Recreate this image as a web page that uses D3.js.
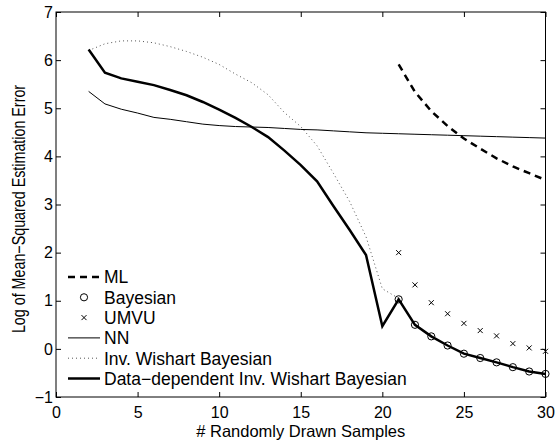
<!DOCTYPE html>
<html>
<head>
<meta charset="utf-8">
<script src="https://cdn.jsdelivr.net/npm/d3@7"></script>
<style>
  html, body { margin: 0; padding: 0; background: #fff; }
  svg text { font-family: "Liberation Sans", Arial, Helvetica, sans-serif; fill: #000; }
</style>
</head>
<body>
<svg id="chart" width="558" height="444"></svg>
<script>
// Sample counts
const samplesAll = d3.range(2, 31);          // 2..30
const samplesLate = d3.range(21, 31);        // 21..30

// Log of mean-squared estimation error per estimator
const mlValues = [5.91, 5.34, 4.94, 4.63, 4.37, 4.16, 3.96, 3.79, 3.65, 3.51];
const bayesianValues = [1.03, 0.50, 0.26, 0.07, -0.10, -0.19, -0.28, -0.38, -0.47, -0.52];
const umvuValues = [2.00, 1.33, 0.96, 0.73, 0.53, 0.38, 0.27, 0.11, 0.02, -0.05];
const nnValues = [5.35, 5.09, 4.98, 4.90, 4.81, 4.77, 4.72, 4.67, 4.64, 4.62,
                  4.61, 4.60, 4.58, 4.56, 4.55, 4.53, 4.51, 4.49, 4.48, 4.47,
                  4.46, 4.45, 4.44, 4.43, 4.42, 4.41, 4.40, 4.39, 4.38];
const invWishartSamples = d3.range(2, 22);   // 2..21
const invWishartValues = [6.20, 6.34, 6.40, 6.40, 6.36, 6.28, 6.18, 6.06, 5.91, 5.71,
                          5.53, 5.28, 4.91, 4.62, 4.22, 3.65, 3.06, 2.33, 1.25, 1.05];
const dataDepValues = [6.22, 5.74, 5.62, 5.55, 5.48, 5.38, 5.27, 5.13, 4.97, 4.80,
                       4.61, 4.40, 4.12, 3.82, 3.48, 2.97, 2.47, 1.95, 0.47, 1.03,
                       0.50, 0.26, 0.07, -0.10, -0.19, -0.28, -0.38, -0.47, -0.52];

const xTicks = [0, 5, 10, 15, 20, 25, 30];
const yTicks = [-1, 0, 1, 2, 3, 4, 5, 6, 7];

const legendLabels = ["ML", "Bayesian", "UMVU", "NN", "Inv. Wishart Bayesian",
                      "Data\u2212dependent Inv. Wishart Bayesian"];

// Layout
const margin = { left: 56, right: 12.5, top: 12, bottom: 47 };
const W = 558, H = 444;
const svg = d3.select("#chart");

const x = d3.scaleLinear().domain([0, 30]).range([margin.left, W - margin.right]);
const y = d3.scaleLinear().domain([-1, 7]).range([H - margin.bottom, margin.top]);

const lineGen = (xs) => d3.line().x((d, i) => x(xs[i])).y(d => y(d));

// Plot box
svg.append("rect")
  .attr("x", x(0)).attr("y", y(7))
  .attr("width", x(30) - x(0)).attr("height", y(-1) - y(7))
  .attr("fill", "none").attr("stroke", "#000").attr("stroke-width", 1);

// Axes with inward ticks on all four sides
const tickLen = 5;
const tickFont = 16;
const xAxisB = svg.append("g").attr("transform", `translate(0,${y(-1)})`)
  .call(d3.axisBottom(x).tickValues(xTicks).tickSizeInner(-tickLen).tickSizeOuter(0).tickPadding(9.5));
const xAxisT = svg.append("g").attr("transform", `translate(0,${y(7)})`)
  .call(d3.axisTop(x).tickValues(xTicks).tickSizeInner(-tickLen).tickSizeOuter(0).tickFormat(""));
const yAxisL = svg.append("g").attr("transform", `translate(${x(0)},0)`)
  .call(d3.axisLeft(y).tickValues(yTicks).tickSizeInner(-tickLen).tickSizeOuter(0)
    .tickPadding(3).tickFormat(d => d < 0 ? "\u2212" + Math.abs(d) : d));
const yAxisR = svg.append("g").attr("transform", `translate(${x(30)},0)`)
  .call(d3.axisRight(y).tickValues(yTicks).tickSizeInner(-tickLen).tickSizeOuter(0).tickFormat(""));

[xAxisB, xAxisT, yAxisL, yAxisR].forEach(g => {
  g.select(".domain").remove();
  g.selectAll("line").attr("stroke", "#000");
  g.selectAll("text").attr("fill", "#000").style("font-size", tickFont + "px")
    .style("font-family", "'Liberation Sans', Arial, sans-serif");
});

// Axis titles
svg.append("text")
  .attr("x", (x(0) + x(30)) / 2).attr("y", 437)
  .attr("text-anchor", "middle").style("font-size", "16.5px")
  .text("# Randomly Drawn Samples");
svg.append("text")
  .attr("transform", "translate(25,209) scale(1.25,1) rotate(-90)")
  .attr("text-anchor", "middle").style("font-size", "14.3px")
  .text("Log of Mean\u2212Squared Estimation Error");

// Series
const plot = svg.append("g");

// NN
plot.append("path").datum(nnValues)
  .attr("d", lineGen(samplesAll)).attr("fill", "none")
  .attr("stroke", "#000").attr("stroke-width", 1);

// Inv. Wishart Bayesian (dotted)
plot.append("path").datum(invWishartValues)
  .attr("d", lineGen(invWishartSamples)).attr("fill", "none")
  .attr("stroke", "#555").attr("stroke-width", 1).attr("stroke-dasharray", "1,3");

// Data-dependent Inv. Wishart Bayesian (thick)
plot.append("path").datum(dataDepValues)
  .attr("d", lineGen(samplesAll)).attr("fill", "none")
  .attr("stroke", "#000").attr("stroke-width", 2.5).attr("stroke-linejoin", "miter");

// ML (dashed)
plot.append("path").datum(mlValues)
  .attr("d", lineGen(samplesLate)).attr("fill", "none")
  .attr("stroke", "#000").attr("stroke-width", 2.5).attr("stroke-dasharray", "7,5");

// Bayesian circles
plot.selectAll("circle.bayes").data(bayesianValues).enter().append("circle")
  .attr("class", "bayes")
  .attr("cx", (d, i) => x(samplesLate[i])).attr("cy", d => y(d))
  .attr("r", 3.6).attr("fill", "none").attr("stroke", "#000").attr("stroke-width", 1);

// UMVU crosses
const crossPath = s => `M${-s},${-s}L${s},${s}M${-s},${s}L${s},${-s}`;
plot.selectAll("path.umvu").data(umvuValues).enter().append("path")
  .attr("class", "umvu")
  .attr("transform", (d, i) => `translate(${x(samplesLate[i])},${y(d)})`)
  .attr("d", crossPath(2.5)).attr("stroke", "#000").attr("stroke-width", 1).attr("fill", "none");

// Legend (no frame)
const legend = svg.append("g").attr("transform", "translate(68,277)");
const rowH = 20.3;
legendLabels.forEach((label, i) => {
  const g = legend.append("g").attr("transform", `translate(0,${i * rowH})`);
  const x0 = 0, x1 = 32, xm = 16;
  if (i === 0) {
    g.append("line").attr("x1", x0).attr("x2", x1).attr("stroke", "#000")
      .attr("stroke-width", 2.5).attr("stroke-dasharray", "7,5");
  } else if (i === 1) {
    g.append("circle").attr("cx", xm).attr("cy", 0).attr("r", 3.6)
      .attr("fill", "none").attr("stroke", "#000");
  } else if (i === 2) {
    g.append("path").attr("transform", `translate(${xm},0)`).attr("d", crossPath(2.5))
      .attr("stroke", "#000").attr("fill", "none");
  } else if (i === 3) {
    g.append("line").attr("x1", x0).attr("x2", x1).attr("stroke", "#000").attr("stroke-width", 1);
  } else if (i === 4) {
    g.append("line").attr("x1", x0).attr("x2", x1).attr("stroke", "#555")
      .attr("stroke-width", 1).attr("stroke-dasharray", "1,3");
  } else {
    g.append("line").attr("x1", x0).attr("x2", x1).attr("stroke", "#000").attr("stroke-width", 2.5);
  }
  g.append("text").attr("x", 36).attr("y", 0).attr("dy", "0.36em")
    .style("font-size", "17.5px").text(label);
});
</script>
</body>
</html>
